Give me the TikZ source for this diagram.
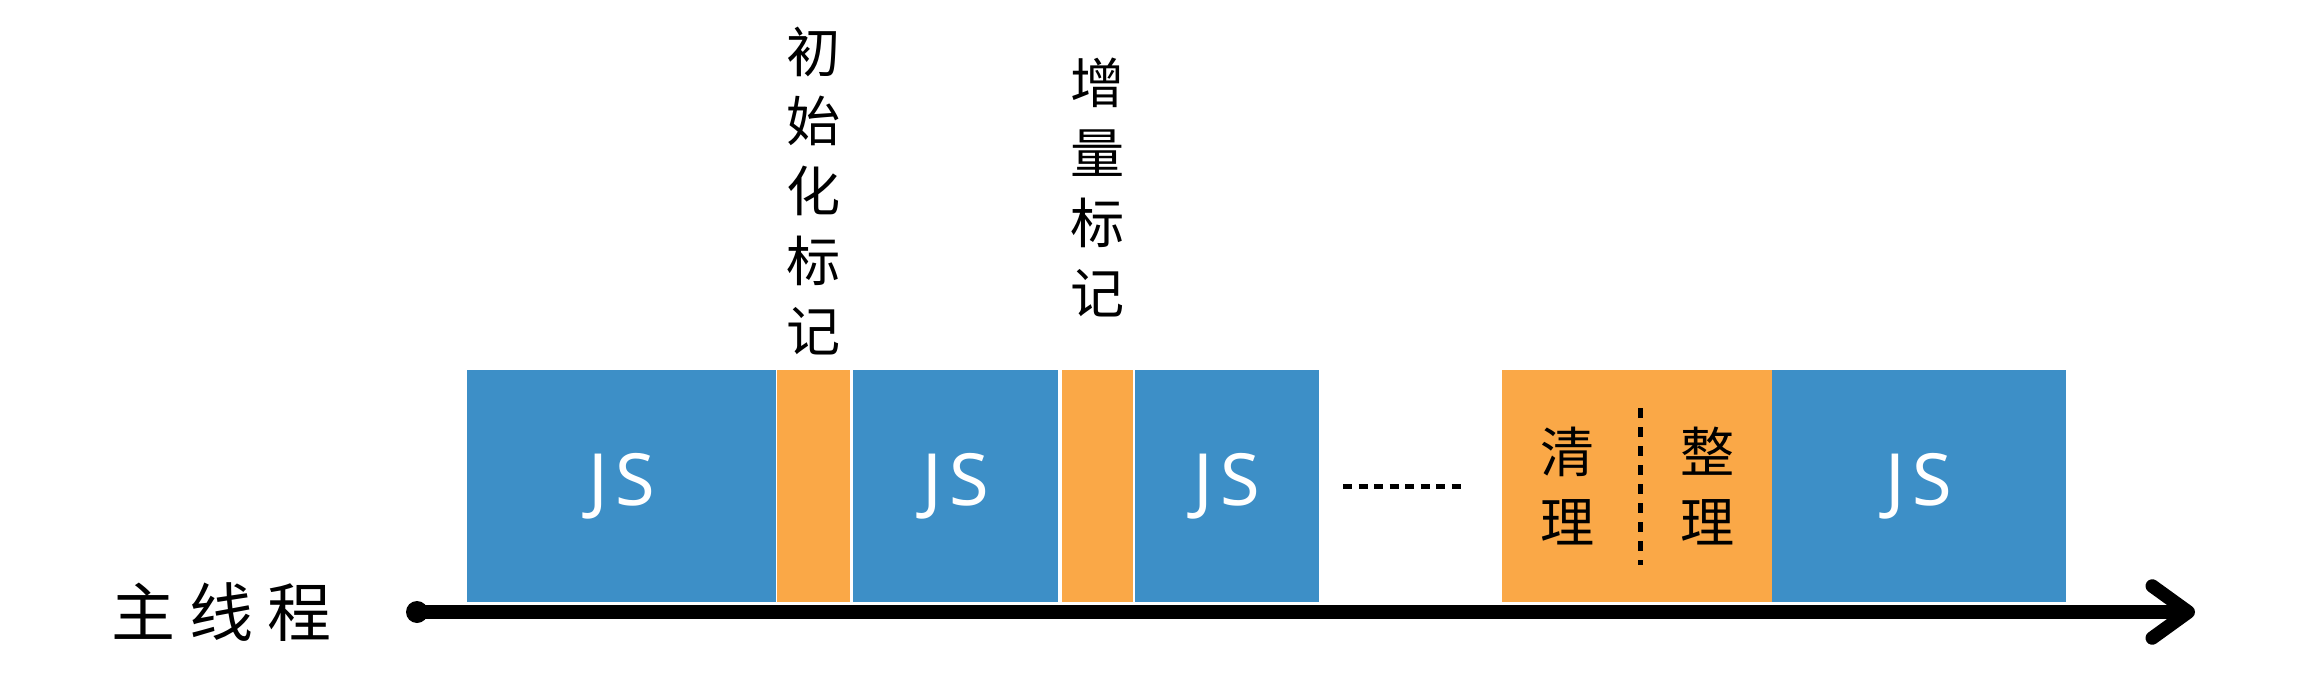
\documentclass[tikz,border=0pt]{standalone}
\usepackage{fontspec}
\newfontfamily\cjk{Noto Sans CJK SC}
\newfontfamily\latin{Noto Sans}
\usetikzlibrary{positioning,arrows.meta}
\definecolor{jsblue}{RGB}{61,143,199}
\definecolor{gcorange}{RGB}{250,168,71}

\begin{document}
\begin{tikzpicture}[node distance=0.02cm,
	jsbox/.style={fill=jsblue, minimum height=2.32cm, inner sep=0, outer sep=0, text=white, font=\latin\fontsize{20.5}{24}\selectfont},
	markbox/.style={fill=gcorange, minimum height=2.32cm, inner sep=0, outer sep=0},
	vlabel/.style={align=center, inner sep=0, font=\cjk\fontsize{15.4}{19.9}\selectfont},
	timeline/.style={line width=0.135cm, line cap=round, -{Straight Barb[length=0.36cm, width=0.52cm, round]}}]
	\useasboundingbox (0,0) rectangle (23.06,6.98);
	% blocks on the main thread
	\node[jsbox, minimum width=3.09cm] (js1) at (6.215,2.12) {J\hspace{0.07cm}S};
	\node[markbox, minimum width=0.73cm] (mark1) [right=0.01cm of js1] {};
	\node[jsbox, minimum width=2.05cm] (js2) [right=0.03cm of mark1] {J\hspace{0.07cm}S};
	\node[markbox, minimum width=0.71cm] (mark2) [right=0.04cm of js2] {};
	\node[jsbox, minimum width=1.84cm] (js3) [right=0.02cm of mark2] {J\hspace{0.07cm}S};
	\node[markbox, minimum width=2.70cm] (clean) [right=1.83cm of js3] {};
	\node[jsbox, minimum width=2.94cm] (js4) [right=0cm of clean] {J\hspace{0.07cm}S};
	% labels
	\node[vlabel] (initmark) [above=0.14cm of mark1] {初\\始\\化\\标\\记};
	\node[vlabel] (incrmark) [above=0.52cm of mark2] {增\\量\\标\\记};
	\node[vlabel] (qingli) at ([xshift=-0.69cm]clean.center) {清\\理};
	\node[vlabel] (zhengli) at ([xshift=0.71cm]clean.center) {整\\理};
	\draw[line width=0.05cm, dash pattern=on 0.1cm off 0.09cm] ([xshift=0.03cm, yshift=0.78cm]clean.center) -- ([xshift=0.03cm, yshift=-0.79cm]clean.center);
	\draw[line width=0.05cm, dash pattern=on 0.09cm off 0.065cm] ([xshift=0.24cm]js3.east) -- ([xshift=-0.37cm]clean.west);
	% main thread axis
	\node[circle, fill, inner sep=0, minimum size=0.22cm] (start) at (4.17,0.86) {};
	\coordinate (end) at (21.95,0.86);
	\node[inner sep=0, font=\cjk\fontsize{18.2}{22}\selectfont] (mainthread) [left=0.85cm of start.center] {主\hspace{0.14cm}线\hspace{0.14cm}程};
	\draw[timeline] (start.center) -- (end);
\end{tikzpicture}
\end{document}
